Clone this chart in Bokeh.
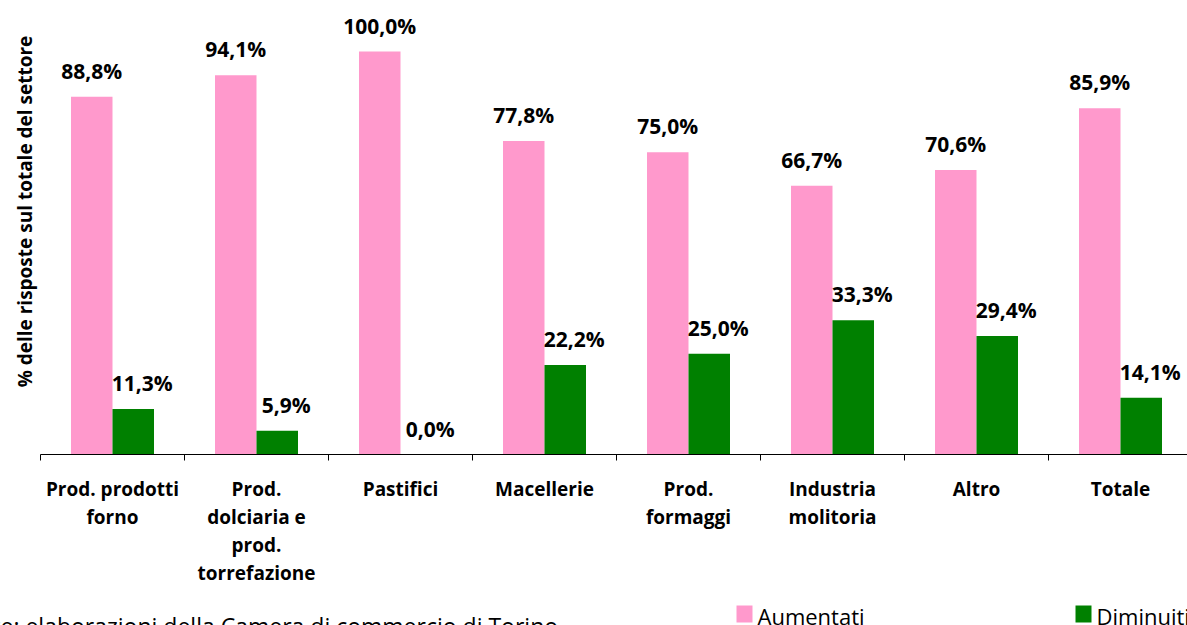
import math
from bokeh.plotting import figure
from bokeh.models import ColumnDataSource, Range1d
from bokeh.core.properties import value
from bokeh.embed import file_html
from bokeh.resources import INLINE

# ---------------- data ----------------
categories = [
    "Prod. prodotti\nforno",
    "Prod.\ndolciaria e\nprod.\ntorrefazione",
    "Pastifici",
    "Macellerie",
    "Prod.\nformaggi",
    "Industria\nmolitoria",
    "Altro",
    "Totale",
]
aumentati = [88.8, 94.1, 100.0, 77.8, 75.0, 66.7, 70.6, 85.9]
diminuiti = [11.3, 5.9, 0.0, 22.2, 25.0, 33.3, 29.4, 14.1]
series_names = ["Aumentati", "Diminuiti"]
y_title = "% delle risposte sul totale del settore"
source_note = "Fonte: elaborazioni della Camera di commercio di Torino"

PINK = "#FF99CC"
GREEN = "#008000"
FONT = "Open Sans"

# ---------------- layout helpers (pixels -> data units) ----------------
PX_PER_CAT = 144.0
PX_PER_PCT = 4.03
def dx(px):
    return px / PX_PER_CAT
def dy(px):
    return px / PX_PER_PCT

W, H = 1187, 625
ORG = 0  # canvas origin in page pixels
AXIS_X_PAGE, AXIS_Y_PAGE = 40, 454
x_start = -dx(AXIS_X_PAGE - ORG)
x_end = dx(ORG + W - AXIS_X_PAGE)
y_end = dy(AXIS_Y_PAGE - ORG)
y_start = -dy(ORG + H - AXIS_Y_PAGE)

def X(page_x):
    return dx(page_x - AXIS_X_PAGE)
def Y(page_y):
    return dy(AXIS_Y_PAGE - page_y)

p = figure(width=W, height=H, output_backend="svg", toolbar_location=None,
           x_range=Range1d(x_start, x_end), y_range=Range1d(y_start, y_end),
           min_border=0, min_border_left=0, min_border_right=0,
           min_border_top=0, min_border_bottom=0)
p.axis.visible = False
p.grid.visible = False
p.outline_line_color = None
p.background_fill_color = "white"
p.border_fill_color = "white"

n = len(categories)
idx = list(range(n))
half = dx(20.75)
bw = dx(41.5)
pink_x = [i + 0.5 - half for i in idx]
green_x = [i + 0.5 + half for i in idx]

def fmt(v):
    return f"{v:.1f}".replace(".", ",") + "%"

src = ColumnDataSource(dict(
    px=pink_x, gx=green_x, aum=aumentati, dim=diminuiti,
    aum_lab=[fmt(v) for v in aumentati], dim_lab=[fmt(v) for v in diminuiti],
))

p.vbar(x="px", top="aum", bottom=0, width=bw, source=src,
       fill_color=PINK, line_color=None)
p.vbar(x="gx", top="dim", bottom=0, width=bw, source=src,
       fill_color=GREEN, line_color=None)

# value labels
p.text(x="px", y="aum", text="aum_lab", source=src, text_font=value(FONT),
       text_font_style="bold", text_font_size="21px", text_color="black",
       text_align="center", text_baseline="alphabetic", y_offset=-26)
p.text(x="gx", y="dim", text="dim_lab", source=src, text_font=value(FONT),
       text_font_style="bold", text_font_size="21px", text_color="black",
       text_align="center", text_baseline="alphabetic", y_offset=-26, x_offset=9)

# category axis line and tick marks (between categories)
p.segment(x0=[0], y0=[0], x1=[n], y1=[0], line_color="black", line_width=1)
ticks = list(range(n + 1))
p.segment(x0=ticks, y0=[0] * len(ticks), x1=ticks, y1=[-dy(6)] * len(ticks),
          line_color="black", line_width=1)

# category labels
cat_src = ColumnDataSource(dict(x=[i + 0.5 for i in idx], y=[Y(475)] * n, t=categories))
p.text(x="x", y="y", text="t", source=cat_src, text_font=value(FONT),
       text_font_style="bold", text_font_size="19px", text_color="black",
       text_align="center", text_baseline="top", text_line_height=1.08)

# y-axis title
p.text(x=[X(24)], y=[Y(211)], text=[y_title], angle=math.pi / 2,
       text_font=value(FONT), text_font_style="bold", text_font_size="19px",
       text_color="black", text_align="center", text_baseline="middle")

# legend
leg_x_page = [736, 1075]
leg_colors = [PINK, GREEN]
for lx, col, name in zip(leg_x_page, leg_colors, series_names):
    p.quad(left=[X(lx)], right=[X(lx + 16)], top=[Y(605)], bottom=[Y(622)],
           fill_color=col, line_color=None)
    p.text(x=[X(lx + 21)], y=[Y(621)], text=[name],
           text_font=value(FONT), text_font_size="22px", text_color="black",
           text_align="left", text_baseline="alphabetic", y_offset=-6)

# source note (anchor kept inside the frame, pushed out by pixel offsets)
p.text(x=[X(1)], y=[Y(620)], text=[source_note],
       text_font=value(FONT), text_font_size="23px", text_color="black",
       text_align="left", text_baseline="alphabetic", x_offset=-49, y_offset=5)

open("out.html", "w").write(file_html(p, INLINE))
